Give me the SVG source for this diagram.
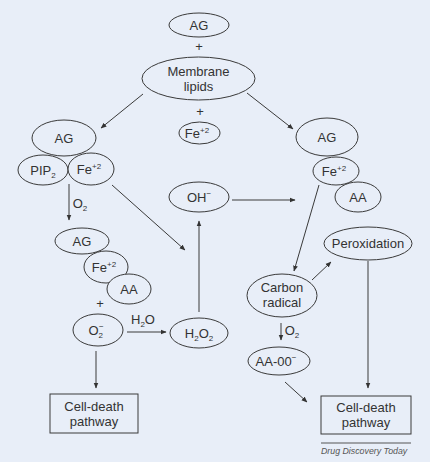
<svg xmlns="http://www.w3.org/2000/svg" width="430" height="462" viewBox="0 0 430 462">
<defs>
<style>
.n{fill:#E8EEF8;stroke:#3a3a3a;stroke-width:1}
.t{font-family:"Liberation Sans",Arial,sans-serif;font-size:13px;fill:#333;text-anchor:middle}
.s{font-size:8px}
.c line{stroke:#3a3a3a;stroke-width:1;fill:none}
.p{font-family:"Liberation Sans",Arial,sans-serif;font-size:13px;fill:#333;text-anchor:middle}
</style>
<marker id="a" viewBox="0 0 10 10" refX="9" refY="5" markerWidth="6" markerHeight="6" orient="auto" markerUnits="userSpaceOnUse">
<path d="M0,1 L10,5 L0,9 z" fill="#333"/>
</marker>
</defs>
<rect width="430" height="462" fill="#E8EEF8"/>

<g class="c" id="connectors">
<line x1="143" y1="94" x2="101" y2="128" marker-end="url(#a)"/>
<line x1="247" y1="93" x2="293" y2="129" marker-end="url(#a)"/>
<line x1="69" y1="184" x2="69" y2="220" marker-end="url(#a)"/>
<line x1="112" y1="185" x2="185" y2="250" marker-end="url(#a)"/>
<line x1="232" y1="200" x2="295" y2="200" marker-end="url(#a)"/>
<line x1="199" y1="312" x2="199" y2="221" marker-end="url(#a)"/>
<line x1="127" y1="332" x2="166" y2="332" marker-end="url(#a)"/>
<line x1="96" y1="351" x2="96" y2="388" marker-end="url(#a)"/>
<line x1="319" y1="185" x2="294" y2="271" marker-end="url(#a)"/>
<line x1="312" y1="280" x2="331" y2="262" marker-end="url(#a)"/>
<line x1="368" y1="261" x2="368" y2="388" marker-end="url(#a)"/>
<line x1="281" y1="323" x2="281" y2="340" marker-end="url(#a)"/>
<line x1="285" y1="382" x2="307" y2="402" marker-end="url(#a)"/>
</g>

<g id="labels" class="p">
<text x="199" y="51">+</text>
<text x="200" y="116">+</text>
<text x="100" y="308">+</text>
<text x="80" y="208">O<tspan class="s" dy="3">2</tspan></text>
<text x="143" y="324">H<tspan class="s" dy="3">2</tspan><tspan dy="-3">O</tspan></text>
<text x="292" y="335">O<tspan class="s" dy="3">2</tspan></text>
</g>

<g id="ag-top"><ellipse class="n" cx="199" cy="25" rx="30" ry="12"/><text class="t" x="199" y="30">AG</text></g>
<g id="membrane"><ellipse class="n" cx="198.5" cy="78.5" rx="56.5" ry="21.5"/><text class="t" x="198.5" y="76">Membrane</text><text class="t" x="198.5" y="91">lipids</text></g>
<g id="fe-mid"><ellipse class="n" cx="199.5" cy="133" rx="20.5" ry="11"/><text class="t" x="197" y="138">Fe<tspan class="s" dy="-5">+2</tspan></text></g>

<g id="ag-left"><ellipse class="n" cx="64" cy="138" rx="32" ry="18"/><text class="t" x="64" y="143">AG</text></g>
<g id="pip2"><ellipse class="n" cx="43" cy="170" rx="25" ry="15"/><text class="t" x="43" y="175">PIP<tspan class="s" dy="3">2</tspan></text></g>
<g id="fe-left"><ellipse class="n" cx="91" cy="169" rx="23" ry="16"/><text class="t" x="89" y="174">Fe<tspan class="s" dy="-5">+2</tspan></text></g>

<g id="ag-left2"><ellipse class="n" cx="82" cy="241" rx="27" ry="13"/><text class="t" x="82" y="246">AG</text></g>
<g id="fe-left2"><ellipse class="n" cx="106" cy="267" rx="22" ry="16"/><text class="t" x="104" y="272">Fe<tspan class="s" dy="-5">+2</tspan></text></g>
<g id="aa-left"><ellipse class="n" cx="129" cy="289" rx="22" ry="15"/><text class="t" x="129" y="294">AA</text></g>

<g id="oh"><ellipse class="n" cx="199" cy="197" rx="30" ry="15"/><text class="t" x="199" y="202">OH<tspan class="s" dy="-6">−</tspan></text></g>
<g id="o2"><ellipse class="n" cx="98" cy="330" rx="25" ry="16"/><text class="t" x="96" y="335">O<tspan class="s" dy="3">2</tspan><tspan class="s" dx="-4" dy="-9">−</tspan></text></g>
<g id="h2o2"><ellipse class="n" cx="199" cy="333" rx="29" ry="15"/><text class="t" x="199" y="338">H<tspan class="s" dy="3">2</tspan><tspan dy="-3">O</tspan><tspan class="s" dy="3">2</tspan></text></g>

<g id="ag-right"><ellipse class="n" cx="327" cy="137" rx="31" ry="19"/><text class="t" x="327" y="142">AG</text></g>
<g id="fe-right"><ellipse class="n" cx="336" cy="171" rx="23" ry="14"/><text class="t" x="334" y="176">Fe<tspan class="s" dy="-5">+2</tspan></text></g>
<g id="aa-right"><ellipse class="n" cx="358" cy="197" rx="23" ry="15"/><text class="t" x="358" y="202">AA</text></g>

<g id="peroxidation"><ellipse class="n" cx="368" cy="243.5" rx="44" ry="16.5"/><text class="t" x="368" y="248">Peroxidation</text></g>
<g id="carbon"><ellipse class="n" cx="282" cy="295.5" rx="35" ry="21.5"/><text class="t" x="282" y="292">Carbon</text><text class="t" x="282" y="307">radical</text></g>
<g id="aa00"><ellipse class="n" cx="279" cy="361" rx="31" ry="14"/><text class="t" x="276" y="366">AA-00<tspan class="s" dy="-6">−</tspan></text></g>

<g id="cell-left"><rect class="n" x="50" y="394" width="88" height="39"/><text class="t" x="94" y="411">Cell-death</text><text class="t" x="94" y="426">pathway</text></g>
<g id="cell-right"><rect class="n" x="321" y="396" width="90" height="38"/><text class="t" x="366" y="412">Cell-death</text><text class="t" x="366" y="427">pathway</text></g>

<g id="credit">
<line x1="321" y1="443" x2="411" y2="443" stroke="#555" stroke-width="1"/>
<text x="321" y="454" font-family="'Liberation Sans',Arial,sans-serif" font-size="8.8" font-style="italic" fill="#555">Drug Discovery Today</text>
</g>
</svg>
